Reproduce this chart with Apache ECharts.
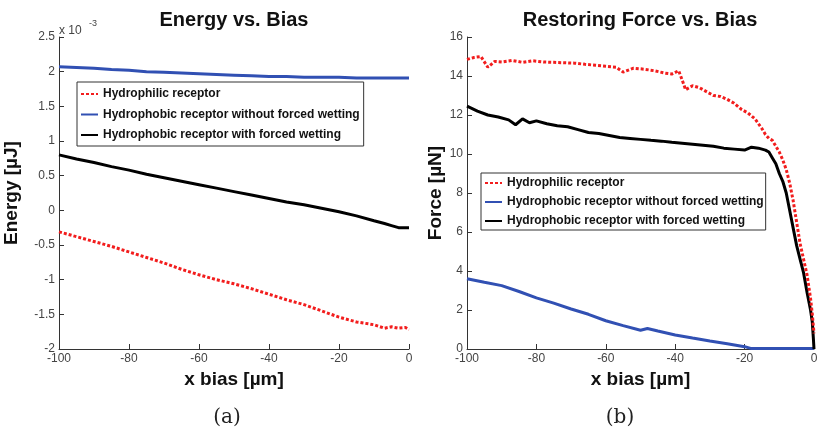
<!DOCTYPE html>
<html><head><meta charset="utf-8">
<script src="https://cdn.jsdelivr.net/npm/echarts@6/dist/echarts.min.js"></script>
<style>html,body{margin:0;padding:0;background:#fff}#c{width:823px;height:432px}</style>
</head><body><div id="c"></div>
<script>
// ---- Labels ----
const seriesNames = ['Hydrophilic receptor', 'Hydrophobic receptor without forced wetting', 'Hydrophobic receptor with forced wetting'];
const titles = ['Energy vs. Bias', 'Restoring Force vs. Bias'];
const captions = ['(a)', '(b)'];
const xName = 'x bias [\u00b5m]';
const yNames = ['Energy [\u00b5J]', 'Force [\u00b5N]'];

// ---- (a) Energy vs. Bias (units of 1e-3 uJ) ----
const energyX = [-100,-95,-90,-85,-80,-75,-70,-65,-60,-55,-50,-45,-40,-35,-30,-25,-20,-15,-10,-7,-5,-3,-1,0];
const energyHydrophilic = [-0.31,-0.38,-0.45,-0.52,-0.60,-0.68,-0.76,-0.85,-0.93,-1.00,-1.06,-1.13,-1.21,-1.29,-1.36,-1.45,-1.54,-1.61,-1.65,-1.70,-1.68,-1.70,-1.69,-1.72];
const energyHydrophobicNoWet = [2.07,2.06,2.05,2.03,2.02,2.00,1.99,1.98,1.97,1.96,1.95,1.94,1.93,1.93,1.92,1.92,1.92,1.91,1.91,1.91,1.91,1.91,1.91,1.91];
const energyHydrophobicWet = [0.80,0.74,0.69,0.63,0.58,0.52,0.47,0.42,0.37,0.32,0.27,0.22,0.17,0.12,0.08,0.03,-0.02,-0.08,-0.15,-0.19,-0.22,-0.25,-0.25,-0.25];

// ---- (b) Restoring Force vs. Bias (uN) ----
const forceHydrophilicX = [-100,-98,-96,-94,-92,-90,-87,-84,-81,-78,-75,-72,-69,-66,-63,-60,-57,-55,-52,-49,-46,-43,-41,-39,-38,-37,-35,-33,-31,-29,-27,-25,-23,-21,-19,-17,-15,-14,-13,-12,-11,-10,-9,-8,-7,-6,-5,-4,-3,-2,-1.5,-1,-0.5,0];
const forceHydrophilic = [14.85,14.95,15.0,14.45,14.75,14.72,14.8,14.7,14.78,14.72,14.7,14.68,14.66,14.6,14.55,14.5,14.45,14.2,14.4,14.35,14.27,14.15,14.1,14.27,13.8,13.3,13.5,13.4,13.2,13.0,12.95,12.8,12.6,12.3,12.1,11.8,11.3,11.0,10.8,10.7,10.4,10.1,9.7,9.2,8.5,7.6,6.5,5.4,4.6,3.8,3.2,2.6,1.8,0.8];
const forceHydrophobicNoWetX = [-100,-95,-90,-85,-80,-75,-70,-65,-60,-55,-50,-48,-45,-40,-35,-30,-25,-20,-18,-10,0];
const forceHydrophobicNoWet = [3.60,3.42,3.25,2.95,2.62,2.35,2.05,1.78,1.45,1.20,0.96,1.05,0.92,0.72,0.56,0.41,0.27,0.12,0.02,0.02,0.02];
const forceHydrophobicWetX = [-100,-97,-94,-91,-88,-86,-84,-82,-80,-77,-74,-71,-68,-65,-62,-59,-56,-53,-50,-47,-44,-41,-38,-35,-32,-29,-26,-23,-20,-18,-16,-14,-13,-12,-11,-10,-9,-8,-7,-6,-5,-4,-3,-2,-1,-0.5,-0.2,0];
const forceHydrophobicWet = [12.45,12.2,12.0,11.9,11.75,11.5,11.8,11.6,11.7,11.55,11.45,11.4,11.25,11.1,11.05,10.95,10.85,10.8,10.75,10.7,10.66,10.6,10.55,10.5,10.45,10.4,10.3,10.25,10.2,10.35,10.3,10.2,10.1,9.8,9.5,9.0,8.6,8.0,7.1,6.2,5.3,4.6,3.9,2.9,2.0,1.4,0.6,0];

// ---- Tick settings ----
const xTicks = {min: -100, max: 0, interval: 20};
const energyTicks = {min: -2, max: 2.5, interval: 0.5};
const forceTicks = {min: 0, max: 16, interval: 2};

const RED = '#f21d1d', BLUE = '#3150b3', BLACK = '#000';
const FONT = 'Liberation Sans, Arial, sans-serif';
const pair = (xs, ys) => xs.map((x, i) => [x, ys[i]]);

function xAxisCfg(gi) {
  return {
    gridIndex: gi, type: 'value', min: xTicks.min, max: xTicks.max, interval: xTicks.interval,
    name: xName, nameLocation: 'middle', nameGap: 12,
    nameTextStyle: {fontFamily: FONT, fontWeight: 'bold', fontSize: 19, color: '#111'},
    axisLine: {show: true, onZero: false, lineStyle: {color: '#333', width: 1}},
    axisTick: {show: true, inside: true, length: 5, lineStyle: {color: '#333'}},
    axisLabel: {fontFamily: FONT, fontSize: 12, color: '#444', margin: 4},
    splitLine: {show: false}
  };
}
function yAxisCfg(gi, ticks, name, gap) {
  return {
    gridIndex: gi, type: 'value', min: ticks.min, max: ticks.max, interval: ticks.interval,
    name: name, nameLocation: 'middle', nameGap: gap,
    nameTextStyle: {fontFamily: FONT, fontWeight: 'bold', fontSize: 19, color: '#111'},
    axisLine: {show: true, onZero: false, lineStyle: {color: '#333', width: 1}},
    axisTick: {show: true, inside: true, length: 5, lineStyle: {color: '#333'}},
    axisLabel: {fontFamily: FONT, fontSize: 12, color: '#444', margin: 4},
    splitLine: {show: false}
  };
}
function lineSeries(name, gi, data, color, dotted) {
  return {
    name: name, type: 'line', xAxisIndex: gi, yAxisIndex: gi, data: data,
    symbol: 'none', smooth: false, animation: false,
    lineStyle: {color: color, width: 3, type: dotted ? [3, 2] : 'solid'},
    itemStyle: {color: color}
  };
}
function legendCfg(left, top, gap, pad) {
  return {
    data: seriesNames, orient: 'vertical', left: left, top: top,
    itemWidth: 17, itemHeight: 14, itemGap: gap, padding: pad,
    backgroundColor: '#fff', borderColor: '#333', borderWidth: 1,
    itemStyle: {opacity: 0},
    textStyle: {fontFamily: FONT, fontWeight: 'bold', fontSize: 12, color: '#111'},
    selectedMode: false
  };
}

const chart = echarts.init(document.getElementById('c'), null, {renderer: 'canvas'});
chart.setOption({
  backgroundColor: '#fff',
  animation: false,
  title: [
    {text: titles[0], left: 229, top: 5, textAlign: 'center', textStyle: {fontFamily: FONT, fontWeight: 'bold', fontSize: 20, color: '#111'}},
    {text: titles[1], left: 635, top: 5, textAlign: 'center', textStyle: {fontFamily: FONT, fontWeight: 'bold', fontSize: 20, color: '#111'}}
  ],
  grid: [
    {left: 59, right: 414, top: 37, bottom: 83},
    {left: 467, right: 9, top: 37, bottom: 83}
  ],
  xAxis: [xAxisCfg(0), xAxisCfg(1)],
  yAxis: [yAxisCfg(0, energyTicks, yNames[0], 38), yAxisCfg(1, forceTicks, yNames[1], 21)],
  legend: [
    legendCfg(77, 82, 8.5, [6, 4, 5, 3]),
    legendCfg(481, 173, 7, [4, 2, 3, 3])
  ],
  series: [
    lineSeries(seriesNames[1], 0, pair(energyX, energyHydrophobicNoWet), BLUE, false),
    lineSeries(seriesNames[2], 0, pair(energyX, energyHydrophobicWet), BLACK, false),
    lineSeries(seriesNames[0], 0, pair(energyX, energyHydrophilic), RED, true),
    lineSeries(seriesNames[1], 1, pair(forceHydrophobicNoWetX, forceHydrophobicNoWet), BLUE, false),
    lineSeries(seriesNames[2], 1, pair(forceHydrophobicWetX, forceHydrophobicWet), BLACK, false),
    lineSeries(seriesNames[0], 1, pair(forceHydrophilicX, forceHydrophilic), RED, true)
  ],
  graphic: [
    {type: 'text', x: 59, y: 25, style: {text: 'x 10', fontFamily: FONT, fontSize: 12, fill: '#444'}},
    {type: 'text', x: 89, y: 19, style: {text: '-3', fontFamily: FONT, fontSize: 9, fill: '#444'}},
    {type: 'text', x: 227, y: 418, style: {text: captions[0], fontFamily: 'DejaVu Serif, serif', fontSize: 20, fill: '#222', align: 'center', verticalAlign: 'middle'}},
    {type: 'text', x: 620, y: 418, style: {text: captions[1], fontFamily: 'DejaVu Serif, serif', fontSize: 20, fill: '#222', align: 'center', verticalAlign: 'middle'}}
  ]
});
</script></body></html>
